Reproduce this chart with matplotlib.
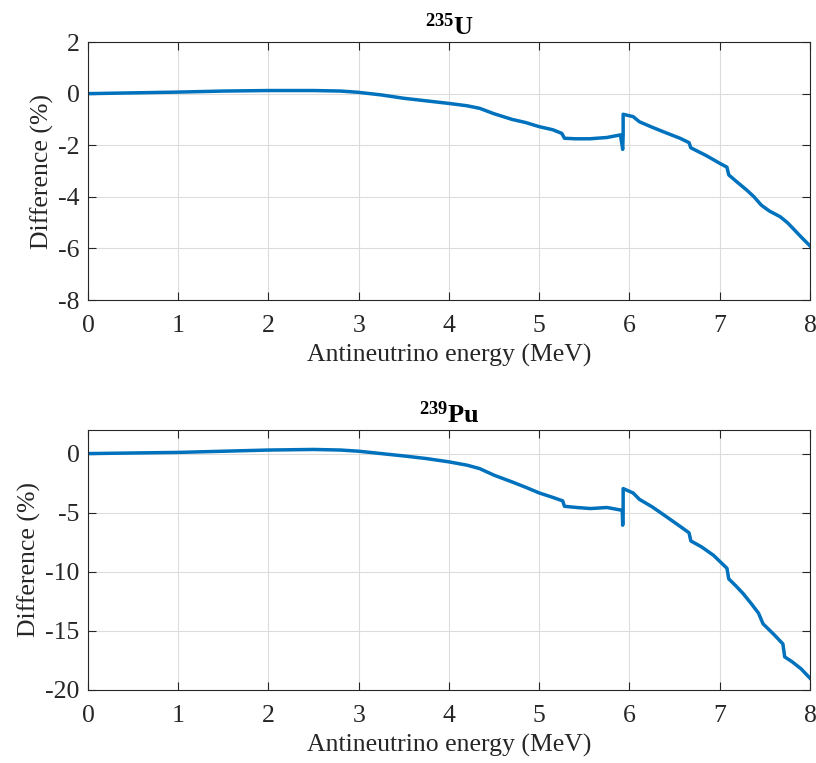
import numpy as np
import matplotlib
matplotlib.use('Agg')
import matplotlib.pyplot as plt

plt.rcParams['font.family'] = ['Liberation Serif', 'DejaVu Serif']
plt.rcParams['mathtext.fontset'] = 'custom'
plt.rcParams['mathtext.rm'] = 'Liberation Serif'
plt.rcParams['mathtext.bf'] = 'Liberation Serif:bold'
plt.rcParams['axes.unicode_minus'] = False

# 235U difference curve (energy in MeV, difference in %)
e_u235 = [0.0, 0.5, 1.0, 1.5, 2.0, 2.5, 2.8, 3.0, 3.25, 3.5, 3.75, 4.0, 4.2, 4.34, 4.5,
          4.7, 4.85, 5.0, 5.15, 5.25, 5.28, 5.4, 5.56, 5.75, 5.9, 5.925, 5.93, 5.93,
          6.04, 6.11, 6.25, 6.37, 6.56, 6.66, 6.68, 6.85, 7.0, 7.08, 7.1, 7.2, 7.3,
          7.38, 7.46, 7.55, 7.67, 7.75, 7.83, 7.9, 8.0]
d_u235 = [0.0, 0.03, 0.06, 0.1, 0.12, 0.12, 0.1, 0.05, -0.05, -0.18, -0.28, -0.38, -0.47,
          -0.57, -0.78, -1.0, -1.12, -1.28, -1.4, -1.54, -1.73, -1.75, -1.75, -1.7,
          -1.6, -2.16, -1.6, -0.8, -0.89, -1.09, -1.3, -1.47, -1.73, -1.9, -2.1, -2.4,
          -2.7, -2.85, -3.15, -3.45, -3.74, -4.0, -4.32, -4.55, -4.77, -5.0, -5.29,
          -5.55, -5.9]

# 239Pu difference curve
e_pu239 = [0.0, 0.5, 1.0, 1.5, 2.0, 2.5, 2.8, 3.0, 3.25, 3.5, 3.75, 4.0, 4.2, 4.34, 4.5,
           4.7, 4.85, 5.0, 5.16, 5.26, 5.28, 5.4, 5.57, 5.75, 5.92, 5.925, 5.93, 5.93,
           6.04, 6.11, 6.25, 6.37, 6.56, 6.66, 6.68, 6.8, 6.93, 7.08, 7.1, 7.18, 7.26,
           7.35, 7.43, 7.48, 7.6, 7.7, 7.72, 7.8, 7.9, 8.0]
d_pu239 = [0.0, 0.05, 0.1, 0.2, 0.3, 0.35, 0.3, 0.2, 0.0, -0.2, -0.42, -0.7, -0.98,
           -1.27, -1.83, -2.4, -2.85, -3.33, -3.73, -4.0, -4.46, -4.55, -4.65, -4.56,
           -4.8, -6.06, -4.8, -2.96, -3.33, -3.87, -4.5, -5.13, -6.15, -6.7, -7.39, -7.9,
           -8.6, -9.7, -10.6, -11.2, -11.85, -12.7, -13.5, -14.4, -15.3, -16.1, -17.2,
           -17.6, -18.2, -19.0]

panels = [
    (e_u235, d_u235, r'$\mathbf{^{235}U}$', (-8, 2), [-8, -6, -4, -2, 0, 2]),
    (e_pu239, d_pu239, r'$\mathbf{^{239}Pu}$', (-20, 2), [-20, -15, -10, -5, 0]),
]

fig = plt.figure(figsize=(8.16, 7.63), dpi=100)
positions = [[0.1078, 0.6068, 0.8848, 0.3381], [0.1078, 0.0957, 0.8848, 0.3408]]

dark = '#262626'
for pos, (e, d, title, ylim, yticks) in zip(positions, panels):
    ax = fig.add_axes(pos)
    ax.plot(e, d, color='#0072BD', linewidth=2.5, solid_joinstyle='round')
    ax.set_xlim(0, 8)
    ax.set_ylim(*ylim)
    ax.set_xticks(range(0, 9))
    ax.set_yticks(yticks)
    ax.grid(True, color='#dcdcdc', linewidth=0.8)
    ax.set_axisbelow(True)
    ax.tick_params(direction='in', top=True, right=True, labelsize=18.5,
                   colors=dark, length=6, width=0.8)
    ax.tick_params(axis='x', pad=11)
    ax.tick_params(axis='y', pad=6)
    for s in ax.spines.values():
        s.set_color(dark)
        s.set_linewidth(0.8)
    ax.set_xlabel('Antineutrino energy (MeV)', fontsize=18.5, color=dark, labelpad=5)
    ax.set_ylabel('Difference (%)', fontsize=18.5, color=dark, labelpad=3)
    ax.set_title(title, fontsize=19, pad=5)

fig.savefig('out.png', dpi=100)
